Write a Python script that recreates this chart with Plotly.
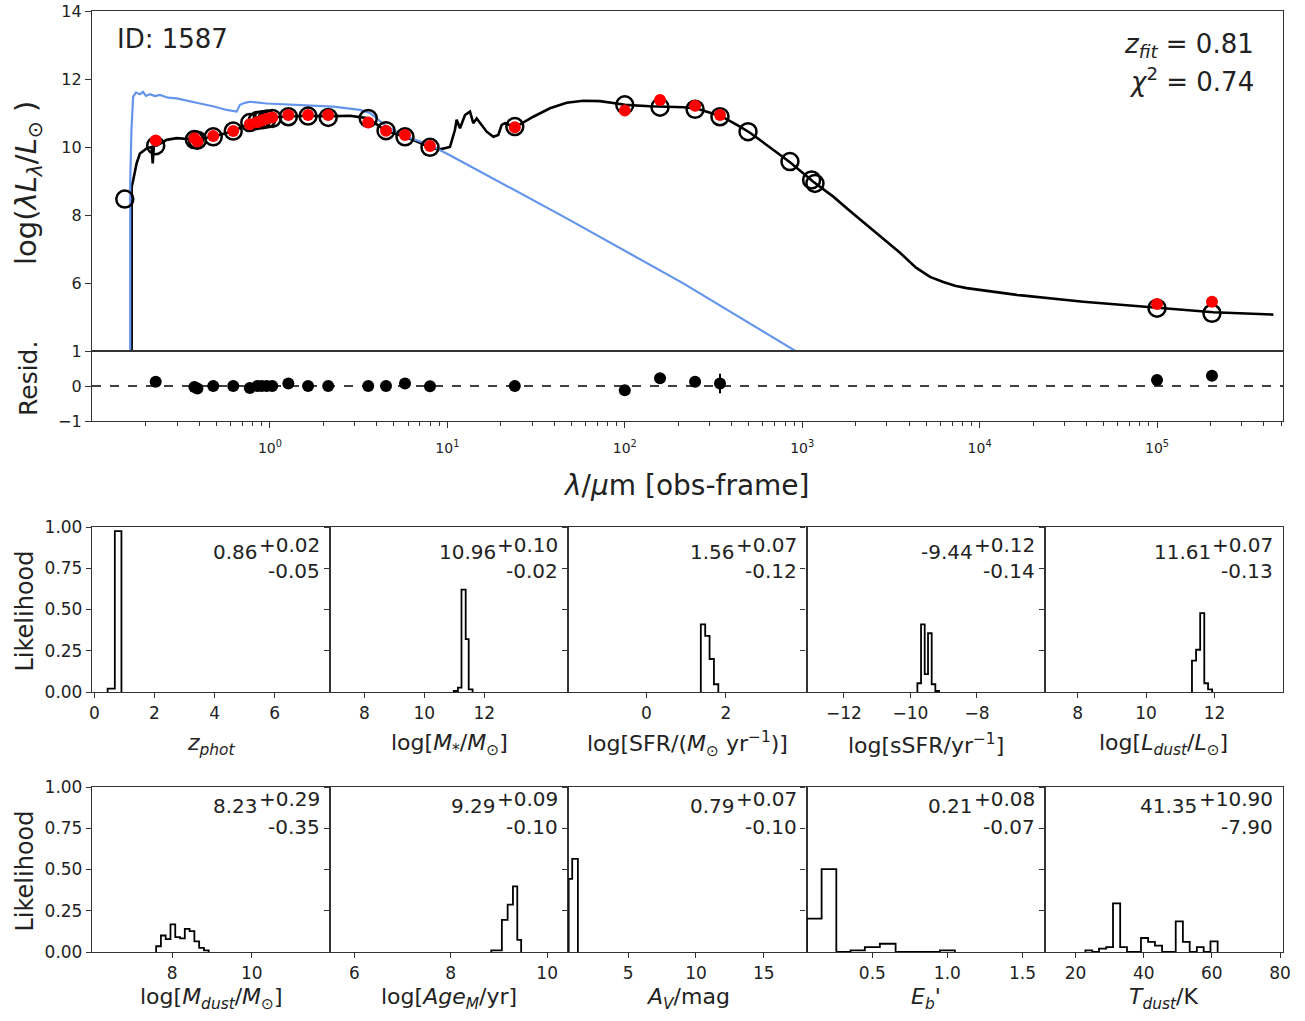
import plotly.graph_objects as go

W, H = 1305, 1021


def fx(p):
    return p / W


def fy(p):
    return 1 - p / H


# ---------------- SED panel data (wavelength in micron, log luminosity) ----------------
model_wave = [0.1661, 0.1662, 0.1696, 0.1772, 0.1850, 0.2018, 0.2154, 0.2183, 0.2219, 0.2298,
              0.2617, 0.2979, 0.3777, 0.4791, 0.6210, 0.7071, 0.7716, 0.8052, 0.9581, 1.268,
              1.644, 2.131, 2.825, 3.510, 3.907, 4.507, 5.768, 7.007, 7.977, 9.085,
              10.34, 11.03, 11.28, 11.78, 12.57, 13.41, 14.00, 14.63, 15.61, 16.66,
              18.15, 19.36, 20.24, 21.12, 24.05, 30.50, 37.87, 47.05, 58.36, 72.47,
              90.01, 100.3, 138.7, 213.7, 254.2, 351.8, 446.1, 507.7, 630.8, 853.6,
              1155, 1497, 1859, 2411, 2867, 3559, 4380, 5253, 6243, 7265, 8460, 16190,
              38420, 99600, 207700, 452500]
model_lum = [3.0, 8.83, 9.03, 9.52, 9.81, 9.96, 10.0, 9.52, 10.05, 10.04,
             10.21, 10.26, 10.22, 10.30, 10.47, 10.6, 10.72, 10.79, 10.87, 10.9,
             10.92, 10.9, 10.92, 10.85, 10.7, 10.47, 10.3, 10.12, 9.98, 9.93,
             10.0, 10.5, 10.8, 10.55, 10.94, 11.04, 10.7, 10.84, 10.65, 10.45,
             10.3, 10.35, 10.65, 10.7, 10.58, 10.89, 11.14, 11.30, 11.36, 11.35,
             11.28, 11.24, 11.2, 11.17, 11.13, 10.9, 10.6, 10.42, 10.06, 9.55,
             8.98, 8.54, 8.12, 7.63, 7.31, 6.89, 6.45, 6.18, 6.03, 5.92, 5.85, 5.65,
             5.45, 5.28, 5.14, 5.07]

stellar_wave = [0.1631, 0.1632, 0.1657, 0.1694, 0.1757, 0.1850, 0.1923, 0.2000, 0.2105, 0.2248,
                0.2399, 0.2661, 0.2979, 0.3450, 0.4031, 0.4773, 0.5700, 0.6490, 0.6774, 0.7230,
                0.7716, 0.9581, 1.476, 2.274, 3.216, 3.662, 4.548, 5.897, 7.977, 10.34,
                47.05, 213.7, 931]
stellar_lum = [3.0, 9.0, 10.5, 11.48, 11.6, 11.55, 11.62, 11.5, 11.55, 11.5,
               11.53, 11.45, 11.43, 11.35, 11.28, 11.2, 11.09, 11.04, 11.24, 11.3,
               11.33, 11.28, 11.24, 11.19, 11.09, 11.0, 10.6, 10.3, 10.06, 9.76,
               7.9, 5.99, 3.98]

phot_wave = [0.152, 0.227, 0.375, 0.39, 0.479, 0.621, 0.77, 0.85, 0.9, 0.96,
             1.03, 1.27, 1.64, 2.13, 3.58, 4.51, 5.77, 7.98, 24.0, 100,
             158, 249, 344, 495, 853, 1130, 1180, 100000, 204000]
phot_model = [8.47, 10.04, 10.22, 10.2, 10.30, 10.47, 10.72, 10.78, 10.8, 10.82,
              10.84, 10.89, 10.91, 10.87, 10.84, 10.48, 10.30, 9.99, 10.6, 11.24,
              11.17, 11.11, 10.89, 10.45, 9.57, 9.03, 8.93, 5.26, 5.11]

obs_wave = [0.227, 0.375, 0.39, 0.479, 0.621, 0.77, 0.85, 0.9, 0.96, 1.03,
            1.27, 1.64, 2.13, 3.58, 4.51, 5.77, 7.98, 24.0, 100, 158,
            249, 344, 100000, 204000]
obs_lum = [10.19, 10.26, 10.16, 10.32, 10.47, 10.67, 10.73, 10.78, 10.83, 10.87,
           10.94, 10.94, 10.94, 10.72, 10.48, 10.35, 10.03, 10.58, 11.07, 11.38,
           11.21, 10.94, 5.38, 5.45]
resid = [0.12, -0.03, -0.07, 0.0, 0.0, -0.06, 0.0, 0.0, 0.0, 0.0,
         0.07, 0.0, 0.0, 0.0, 0.0, 0.07, -0.01, 0.0, -0.12, 0.22,
         0.12, 0.07, 0.17, 0.29]
resid_err = [0.04, 0.03, 0.03, 0.02, 0.02, 0.03, 0.02, 0.02, 0.02, 0.02,
             0.03, 0.03, 0.03, 0.03, 0.03, 0.04, 0.05, 0.05, 0.08, 0.06,
             0.07, 0.28, 0.05, 0.06]

sed_tickvals = [1, 10, 100, 1000, 10000, 100000]
sed_ticktext = ["10<sup>0</sup>", "10<sup>1</sup>", "10<sup>2</sup>",
                "10<sup>3</sup>", "10<sup>4</sup>", "10<sup>5</sup>"]

id_text = "ID: 1587"
zfit_text = "<i>z<sub>fit</sub></i> = 0.81"
chi2_text = "<i>χ</i><sup>2</sup> = 0.74"

# ---------------- likelihood histograms ----------------
zphot_edges = [0.44, 0.68, 0.90]
zphot_heights = [0.02, 0.975]
mstar_edges = [10.98, 11.12, 11.24, 11.38, 11.48, 11.61]
mstar_heights = [0.006, 0.026, 0.62, 0.32, 0.016]
sfr_edges = [1.37, 1.48, 1.59, 1.70, 1.81]
sfr_heights = [0.41, 0.34, 0.20, 0.047]
ssfr_edges = [-9.79, -9.68, -9.57, -9.47, -9.36, -9.25, -9.14]
ssfr_heights = [0.053, 0.41, 0.108, 0.356, 0.047, 0.006]
ldust_edges = [11.34, 11.46, 11.58, 11.70, 11.81, 11.93]
ldust_heights = [0.19, 0.256, 0.478, 0.053, 0.016]
mdust_edges = [7.60, 7.72, 7.84, 7.96, 8.08, 8.20, 8.32, 8.44, 8.56, 8.68, 8.80, 8.92]
mdust_heights = [0.035, 0.10, 0.078, 0.167, 0.09, 0.082, 0.14, 0.127, 0.065, 0.025, 0.01]
age_edges = [8.84, 8.95, 9.06, 9.18, 9.29, 9.38, 9.46]
age_heights = [0.01, 0.01, 0.195, 0.287, 0.398, 0.073]
av_edges = [0.62, 0.88, 1.30]
av_heights = [0.443, 0.565]
eb_edges = [0.062, 0.162, 0.26, 0.355, 0.45, 0.55, 0.655, 0.755, 0.85, 0.95, 1.05]
eb_heights = [0.202, 0.502, 0.0, 0.01, 0.03, 0.05, 0.0, 0.0, 0.0, 0.01]
tdust_edges = [22.9, 24.9, 26.9, 29.0, 31.0, 33.1, 35.1, 37.2, 39.2, 41.3,
               43.3, 45.4, 47.4, 49.4, 51.5, 53.5, 55.6, 57.6, 59.6, 61.7]
tdust_heights = [0.01, 0.0, 0.02, 0.03, 0.295, 0.03, 0.0, 0.0, 0.085, 0.061,
                 0.039, 0.0, 0.0, 0.186, 0.061, 0.0, 0.03, 0.0, 0.065]

hist_titles = ["<i>z<sub>phot</sub></i>",
               "log[<i>M</i><sub>*</sub>/<i>M</i><sub>⊙</sub>]",
               "log[SFR/(<i>M</i><sub>⊙</sub> yr<sup>−1</sup>)]",
               "log[sSFR/yr<sup>−1</sup>]",
               "log[<i>L<sub>dust</sub></i>/<i>L</i><sub>⊙</sub>]",
               "log[<i>M<sub>dust</sub></i>/<i>M</i><sub>⊙</sub>]",
               "log[<i>Age<sub>M</sub></i>/yr]",
               "<i>A<sub>V</sub></i>/mag",
               "<i>E<sub>b</sub></i>'",
               "<i>T<sub>dust</sub></i>/K"]
hist_best = ["0.86", "10.96", "1.56", "-9.44", "11.61", "8.23", "9.29", "0.79", "0.21", "41.35"]
hist_up = ["+0.02", "+0.10", "+0.07", "+0.12", "+0.07", "+0.29", "+0.09", "+0.07", "+0.08", "+10.90"]
hist_low = ["-0.05", "-0.02", "-0.12", "-0.14", "-0.13", "-0.35", "-0.10", "-0.10", "-0.07", "-7.90"]
hist_xticks = [[0, 2, 4, 6], [8, 10, 12], [0, 2], [-12, -10, -8], [8, 10, 12],
               [8, 10], [6, 8, 10], [5, 10, 15], [0.5, 1.0, 1.5], [20, 40, 60, 80]]
likelihood_ticks = [0.0, 0.25, 0.5, 0.75, 1.0]

hist_data = [(zphot_edges, zphot_heights), (mstar_edges, mstar_heights),
             (sfr_edges, sfr_heights), (ssfr_edges, ssfr_heights),
             (ldust_edges, ldust_heights), (mdust_edges, mdust_heights),
             (age_edges, age_heights), (av_edges, av_heights),
             (eb_edges, eb_heights), (tdust_edges, tdust_heights)]

# axis view ranges (layout)
hist_ranges = [[-0.08, 7.85], [6.855, 14.81], [-1.96, 4.03], [-13.12, -5.96], [7.04, 14.0],
               [5.99, 11.97], [5.5, 10.44], [0.6, 18.15], [0.062, 1.649], [10.98, 80.88]]

# ---------------- figure ----------------
FONT = "DejaVu Sans"
TXT = "#222222"
FRAME = "#333333"

fig = go.Figure()

fig.add_trace(go.Scatter(x=model_wave, y=model_lum, mode="lines",
                         line=dict(color="black", width=2.6), xaxis="x", yaxis="y"))
fig.add_trace(go.Scatter(x=stellar_wave, y=stellar_lum, mode="lines",
                         line=dict(color="#6495ED", width=2.2), xaxis="x", yaxis="y"))
fig.add_trace(go.Scatter(x=phot_wave, y=phot_model, mode="markers",
                         marker=dict(symbol="circle-open", size=17, color="black",
                                     line=dict(width=2.5, color="black")),
                         xaxis="x", yaxis="y"))
fig.add_trace(go.Scatter(x=obs_wave, y=obs_lum, mode="markers",
                         marker=dict(color="red", size=12), xaxis="x", yaxis="y"))
fig.add_trace(go.Scatter(x=obs_wave, y=resid, mode="markers",
                         marker=dict(color="black", size=12),
                         error_y=dict(type="data", array=resid_err, color="black",
                                      thickness=2, width=0),
                         xaxis="x2", yaxis="y2"))


def step_xy(edges, heights):
    xs = [edges[0]] + list(edges[:-1]) + [edges[-1]]
    ys = [0] + list(heights) + [0]
    return xs, ys


axis_common = dict(showline=True, mirror=True, linecolor=FRAME, linewidth=1.3,
                   showgrid=False, zeroline=False, tickcolor=FRAME, automargin=False)

minor_vals = [m * 10 ** e for e in range(-1, 6) for m in range(2, 10)]

layout = dict(
    width=W, height=H, margin=dict(l=0, r=0, t=0, b=0, autoexpand=False),
    paper_bgcolor="white", plot_bgcolor="white", showlegend=False, hovermode=False,
    font=dict(family=FONT, color=TXT, size=16),
    xaxis=dict(domain=[fx(92), fx(1283)], type="log", range=[-1.003, 5.71],
               ticks="", showticklabels=False, anchor="y", **axis_common),
    yaxis=dict(domain=[fy(351), fy(11)], range=[4, 14], tickvals=[6, 8, 10, 12, 14],
               ticks="outside", ticklen=6, tickfont=dict(size=16), anchor="x", **axis_common),
    xaxis2=dict(domain=[fx(92), fx(1283)], type="log", range=[-1.003, 5.71],
                tickvals=sed_tickvals, ticktext=sed_ticktext, ticks="outside", ticklen=6,
                tickfont=dict(size=14), ticklabelstandoff=8,
                minor=dict(tickvals=minor_vals, ticks="outside", ticklen=3.5, tickcolor=FRAME),
                anchor="y2", **axis_common),
    yaxis2=dict(domain=[fy(421), fy(351)], range=[-1, 1], tickvals=[-1, 0, 1],
                ticks="outside", ticklen=6, tickfont=dict(size=16), anchor="x2", **axis_common),
)

col_edges = [92, 330.2, 568.4, 806.6, 1044.8, 1283]
row_bounds = [(527, 692), (787, 952)]
title_y = [744, 998]
sup_y = [545, 799]
main_y = [552, 806]
sub_y = [571, 827]

annotations = []
for idx, (edges, heights) in enumerate(hist_data):
    r, c = divmod(idx, 5)
    n = idx + 3
    xs, ys = step_xy(edges, heights)
    fig.add_trace(go.Scatter(x=xs, y=ys, mode="lines",
                             line=dict(color="black", width=1.8, shape="hv"),
                             xaxis=f"x{n}", yaxis=f"y{n}"))
    layout[f"xaxis{n}"] = dict(domain=[fx(col_edges[c]), fx(col_edges[c + 1])],
                               range=hist_ranges[idx], tickvals=hist_xticks[idx],
                               tickformat=".1f" if idx == 8 else None,
                               ticks="outside", ticklen=5, tickfont=dict(size=17),
                               anchor=f"y{n}", **axis_common)
    layout[f"yaxis{n}"] = dict(domain=[fy(row_bounds[r][1]), fy(row_bounds[r][0])],
                               range=[0, 1.0], tickvals=likelihood_ticks, tickformat=".2f",
                               showticklabels=(c == 0), ticks="outside", ticklen=5,
                               tickfont=dict(size=17), anchor=f"x{n}", **axis_common)
    right = col_edges[c + 1]
    main_right = right - 70 if idx != 9 else right - 84
    annotations.append(dict(text=hist_titles[idx], x=fx((col_edges[c] + right) / 2),
                            y=fy(title_y[r]), xref="paper", yref="paper", showarrow=False,
                            xanchor="center", yanchor="middle", font=dict(size=22)))
    annotations.append(dict(text=hist_best[idx], x=fx(main_right), y=fy(main_y[r]),
                            xref="paper", yref="paper", showarrow=False,
                            xanchor="right", yanchor="middle", font=dict(size=20)))
    annotations.append(dict(text=hist_up[idx], x=fx(right - 8), y=fy(sup_y[r]),
                            xref="paper", yref="paper", showarrow=False,
                            xanchor="right", yanchor="middle", font=dict(size=20)))
    annotations.append(dict(text=hist_low[idx], x=fx(right - 8), y=fy(sub_y[r]),
                            xref="paper", yref="paper", showarrow=False,
                            xanchor="right", yanchor="middle", font=dict(size=20)))

for r in range(2):
    annotations.append(dict(text="Likelihood", x=fx(24), y=fy((row_bounds[r][0] + row_bounds[r][1]) / 2 + 2),
                            xref="paper", yref="paper", showarrow=False, textangle=-90,
                            xanchor="center", yanchor="middle", font=dict(size=24)))

annotations += [
    dict(text="log(<i>λL<sub>λ</sub></i>/<i>L</i><sub>⊙</sub> )", x=fx(28), y=fy(183),
         xref="paper", yref="paper", showarrow=False, textangle=-90,
         xanchor="center", yanchor="middle", font=dict(size=29)),
    dict(text="Resid.", x=fx(28), y=fy(378), xref="paper", yref="paper", showarrow=False,
         textangle=-90, xanchor="center", yanchor="middle", font=dict(size=25)),
    dict(text="<i>λ</i>/<i>μ</i>m [obs-frame]", x=fx(686), y=fy(485), xref="paper", yref="paper",
         showarrow=False, xanchor="center", yanchor="middle", font=dict(size=28)),
    dict(text=id_text, x=fx(115), y=fy(39), xref="paper", yref="paper", showarrow=False,
         xanchor="left", yanchor="middle", font=dict(size=26)),
    dict(text=zfit_text, x=fx(1256), y=fy(45), xref="paper", yref="paper", showarrow=False,
         xanchor="right", yanchor="middle", font=dict(size=26)),
    dict(text=chi2_text, x=fx(1256), y=fy(80), xref="paper", yref="paper", showarrow=False,
         xanchor="right", yanchor="middle", font=dict(size=26)),
]

layout["annotations"] = annotations
layout["shapes"] = [dict(type="line", xref="x2 domain", x0=0, x1=1, yref="y2", y0=0, y1=0,
                         line=dict(color="black", width=1.5, dash="dash"), layer="below")]

fig.update_layout(**layout)
fig.write_html("out.html", include_plotlyjs=True, config={"displayModeBar": False})
